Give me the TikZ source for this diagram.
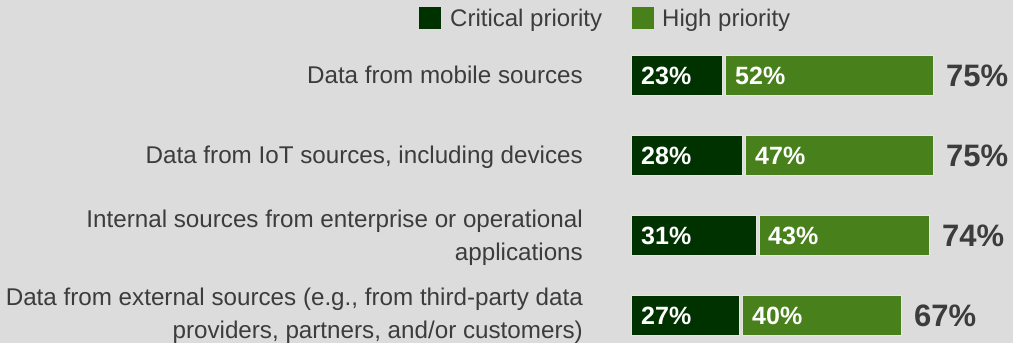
\documentclass[tikz,border=0pt]{standalone}
\usepackage{fontspec}
\setmainfont{Liberation Sans}
\usepackage{tikz}
\usetikzlibrary{positioning}
\definecolor{bggray}{RGB}{220,220,220}
\definecolor{critgreen}{RGB}{0,50,0}
\definecolor{highgreen}{RGB}{72,128,28}
\definecolor{textgray}{RGB}{60,60,60}
\definecolor{edgegray}{RGB}{226,232,222}

\begin{document}
\begin{tikzpicture}[x=1pt,y=-1pt,
    rowlabel/.style={anchor=base east,inner sep=0pt,align=right,
      font=\fontsize{24.2}{33}\selectfont,text=textgray},
    pct/.style={anchor=base west,inner sep=0pt,
      font=\fontsize{25}{28}\selectfont\bfseries,text=white},
    total/.style={anchor=base west,inner sep=0pt,
      font=\fontsize{31}{36}\selectfont\bfseries,text=textgray},
    legtext/.style={anchor=base west,inner sep=0pt,
      font=\fontsize{24}{28}\selectfont,text=textgray},
    seg/.style={draw=edgegray,line width=0.8pt}]
	  % Background and margins
	  \fill[bggray] (0,0) rectangle (1013,343);
	  \useasboundingbox (0,0) rectangle (1013,343);
	  % Legend
	  \fill[critgreen] (419,7) rectangle (441,29);
	  \node[legtext] (legcrit) at (450,26.7) {Critical priority};
	  \fill[highgreen] (632,7) rectangle (654,29);
	  \node[legtext] (leghigh) at (662,26.7) {High priority};
	  % Row labels (base is the last line)
	  \node[rowlabel] (lab1) at (583,83.7) {Data from mobile sources};
	  \node[rowlabel] (lab2) at (583,163.7) {Data from IoT sources, including devices};
	  \node[rowlabel] (lab3) at (583,260) {Internal sources from enterprise or operational\\applications};
	  \node[rowlabel] (lab4) at (583,338) {Data from external sources (e.g., from third-party data\\providers, partners, and/or customers)};
	  % Bars: critical then high priority
	  \fill[critgreen,seg] (631,55) rectangle (722.7,95);
	  \fill[highgreen,seg] (725.7,55) rectangle (933.2,95);
	  \fill[critgreen,seg] (631,135) rectangle (742.8,175);
	  \fill[highgreen,seg] (745.8,135) rectangle (933.2,175);
	  \fill[critgreen,seg] (631,215) rectangle (755.9,255);
	  \fill[highgreen,seg] (758.9,215) rectangle (929.2,255);
	  \fill[critgreen,seg] (631,295) rectangle (739.8,335);
	  \fill[highgreen,seg] (742.8,295) rectangle (901.0,335);
	  % Shares inside the bars
	  \node[pct] (crit1) at (641,84) {23\%};
	  \node[pct] (high1) at (735,84) {52\%};
	  \node[pct] (crit2) at (641,164) {28\%};
	  \node[pct] (high2) at (755,164) {47\%};
	  \node[pct] (crit3) at (641,244) {31\%};
	  \node[pct] (high3) at (768,244) {43\%};
	  \node[pct] (crit4) at (641,324) {27\%};
	  \node[pct] (high4) at (752,324) {40\%};
	  % Totals
	  \node[total] (tot1) at (946,86) {75\%};
	  \node[total] (tot2) at (946,166) {75\%};
	  \node[total] (tot3) at (942,246) {74\%};
	  \node[total] (tot4) at (914,326) {67\%};
      \end{tikzpicture}
\end{document}
